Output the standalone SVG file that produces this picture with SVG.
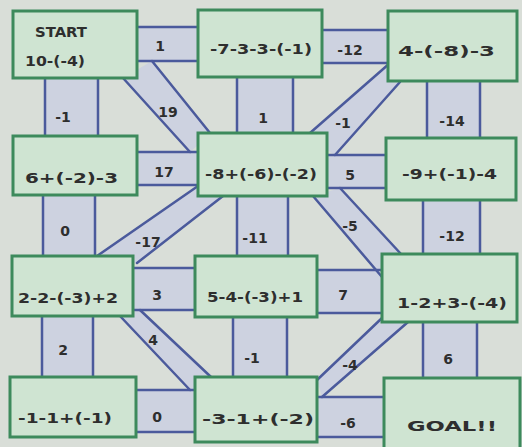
<svg xmlns="http://www.w3.org/2000/svg" width="522" height="447" viewBox="0 0 522 447">
<style>
.fill{fill:#cdd2e0;stroke:none}
.ln{stroke:#4b5a9c;stroke-width:2.5;stroke-linecap:round;fill:none}
.lbl{font-family:"DejaVu Sans",sans-serif;font-weight:bold;font-size:14px;fill:#2e2e2e;text-anchor:middle}
.box{fill:#cfe4d2;stroke:#3d8a5c;stroke-width:3}
.bt{font-family:"DejaVu Sans",sans-serif;font-weight:bold;font-size:14px;fill:#2e2e2e}
</style>
<rect x="0" y="0" width="522" height="447" fill="#d9ded8"/>
<g id="connectors">
  <g id="corridor-fills">
    <rect class="fill" x="137" y="27" width="61" height="34"/>
    <rect class="fill" x="322" y="30" width="66" height="33"/>
    <rect class="fill" x="137" y="152" width="61" height="33"/>
    <rect class="fill" x="327" y="155" width="59" height="33"/>
    <rect class="fill" x="133" y="268" width="62" height="42"/>
    <rect class="fill" x="317" y="270" width="65" height="43"/>
    <rect class="fill" x="136" y="390" width="59" height="42"/>
    <rect class="fill" x="317" y="397" width="67" height="40"/>
    <rect class="fill" x="45" y="78" width="53" height="58"/>
    <rect class="fill" x="237" y="77" width="56" height="56"/>
    <rect class="fill" x="427" y="81" width="53" height="57"/>
    <rect class="fill" x="43" y="195" width="52" height="61"/>
    <rect class="fill" x="237" y="196" width="51" height="60"/>
    <rect class="fill" x="423" y="200" width="57" height="54"/>
    <rect class="fill" x="42" y="316" width="51" height="61"/>
    <rect class="fill" x="233" y="317" width="54" height="60"/>
    <rect class="fill" x="423" y="322" width="54" height="55"/>
    <polygon class="fill" points="152,61 210,133 198,145 190,152 123,78"/>
    <polygon class="fill" points="390,63 310,133 327,150 335,155 400,82"/>
    <polygon class="fill" points="97,256 198,186 223,196 137,263"/>
    <polygon class="fill" points="340,188 401,254 382,277 313,196"/>
    <polygon class="fill" points="140,310 211,377 195,390 190,390 120,316"/>
    <polygon class="fill" points="382,318 317,380 322,397 408,322"/>
  </g>
  <g id="corridor-lines">
    <line class="ln" x1="137" y1="27" x2="198" y2="27"/><line class="ln" x1="137" y1="61" x2="198" y2="61"/>
    <line class="ln" x1="322" y1="30" x2="388" y2="30"/><line class="ln" x1="322" y1="63" x2="388" y2="63"/>
    <line class="ln" x1="137" y1="152" x2="198" y2="152"/><line class="ln" x1="137" y1="185" x2="198" y2="185"/>
    <line class="ln" x1="327" y1="155" x2="386" y2="155"/><line class="ln" x1="327" y1="188" x2="386" y2="188"/>
    <line class="ln" x1="133" y1="268" x2="195" y2="268"/><line class="ln" x1="133" y1="310" x2="195" y2="310"/>
    <line class="ln" x1="317" y1="270" x2="382" y2="270"/><line class="ln" x1="317" y1="313" x2="382" y2="313"/>
    <line class="ln" x1="136" y1="390" x2="195" y2="390"/><line class="ln" x1="136" y1="432" x2="195" y2="432"/>
    <line class="ln" x1="317" y1="397" x2="384" y2="397"/><line class="ln" x1="317" y1="437" x2="384" y2="437"/>
    <line class="ln" x1="45" y1="78" x2="45" y2="136"/><line class="ln" x1="98" y1="78" x2="98" y2="136"/>
    <line class="ln" x1="237" y1="77" x2="237" y2="133"/><line class="ln" x1="293" y1="77" x2="293" y2="133"/>
    <line class="ln" x1="427" y1="81" x2="427" y2="138"/><line class="ln" x1="480" y1="81" x2="480" y2="138"/>
    <line class="ln" x1="43" y1="195" x2="43" y2="256"/><line class="ln" x1="95" y1="195" x2="95" y2="256"/>
    <line class="ln" x1="237" y1="196" x2="237" y2="256"/><line class="ln" x1="288" y1="196" x2="288" y2="256"/>
    <line class="ln" x1="423" y1="200" x2="423" y2="254"/><line class="ln" x1="480" y1="200" x2="480" y2="254"/>
    <line class="ln" x1="42" y1="316" x2="42" y2="377"/><line class="ln" x1="93" y1="316" x2="93" y2="377"/>
    <line class="ln" x1="233" y1="317" x2="233" y2="377"/><line class="ln" x1="287" y1="317" x2="287" y2="377"/>
    <line class="ln" x1="423" y1="322" x2="423" y2="377"/><line class="ln" x1="477" y1="322" x2="477" y2="377"/>
    <line class="ln" x1="152" y1="61" x2="210" y2="133"/><line class="ln" x1="123" y1="78" x2="190" y2="152"/>
    <line class="ln" x1="390" y1="63" x2="310" y2="133"/><line class="ln" x1="400" y1="82" x2="335" y2="155"/>
    <line class="ln" x1="97" y1="256" x2="198" y2="186"/><line class="ln" x1="137" y1="263" x2="223" y2="196"/>
    <line class="ln" x1="340" y1="188" x2="401" y2="254"/><line class="ln" x1="313" y1="196" x2="382" y2="277"/>
    <line class="ln" x1="140" y1="310" x2="211" y2="377"/><line class="ln" x1="120" y1="316" x2="190" y2="390"/>
    <line class="ln" x1="382" y1="318" x2="317" y2="380"/><line class="ln" x1="408" y1="322" x2="322" y2="397"/>
  </g>
  <g id="corridor-labels">
    <text class="lbl" x="160" y="51">1</text>
    <text class="lbl" x="350" y="55">-12</text>
    <text class="lbl" x="164" y="177">17</text>
    <text class="lbl" x="350" y="180">5</text>
    <text class="lbl" x="157" y="300">3</text>
    <text class="lbl" x="343" y="300">7</text>
    <text class="lbl" x="157" y="422">0</text>
    <text class="lbl" x="348" y="428">-6</text>
    <text class="lbl" x="63" y="122">-1</text>
    <text class="lbl" x="263" y="123">1</text>
    <text class="lbl" x="452" y="126">-14</text>
    <text class="lbl" x="65" y="236">0</text>
    <text class="lbl" x="255" y="243">-11</text>
    <text class="lbl" x="452" y="241">-12</text>
    <text class="lbl" x="63" y="355">2</text>
    <text class="lbl" x="252" y="363">-1</text>
    <text class="lbl" x="448" y="364">6</text>
    <text class="lbl" x="168" y="117">19</text>
    <text class="lbl" x="343" y="128">-1</text>
    <text class="lbl" x="148" y="247">-17</text>
    <text class="lbl" x="350" y="231">-5</text>
    <text class="lbl" x="153" y="345">4</text>
    <text class="lbl" x="350" y="370">-4</text>
  </g>
</g>
<g id="start">
  <rect class="box" x="13" y="11" width="124" height="67"/>
  <text class="bt" x="35" y="37" textLength="52" lengthAdjust="spacingAndGlyphs">START</text>
  <text class="bt" x="25" y="66" textLength="60" lengthAdjust="spacingAndGlyphs">10-(-4)</text>
</g>
<g id="n12">
  <rect class="box" x="198" y="10" width="124" height="67"/>
  <text class="bt" x="210" y="54" textLength="102" lengthAdjust="spacingAndGlyphs">-7-3-3-(-1)</text>
</g>
<g id="n13">
  <rect class="box" x="388" y="11" width="129" height="70"/>
  <text class="bt" x="398" y="56" textLength="97" lengthAdjust="spacingAndGlyphs">4-(-8)-3</text>
</g>
<g id="n21">
  <rect class="box" x="13" y="136" width="124" height="59"/>
  <text class="bt" x="25" y="183" textLength="93" lengthAdjust="spacingAndGlyphs">6+(-2)-3</text>
</g>
<g id="n22">
  <rect class="box" x="198" y="133" width="129" height="63"/>
  <text class="bt" x="205" y="179" textLength="112" lengthAdjust="spacingAndGlyphs">-8+(-6)-(-2)</text>
</g>
<g id="n23">
  <rect class="box" x="386" y="138" width="130" height="62"/>
  <text class="bt" x="402" y="179" textLength="95" lengthAdjust="spacingAndGlyphs">-9+(-1)-4</text>
</g>
<g id="n31">
  <rect class="box" x="12" y="256" width="121" height="60"/>
  <text class="bt" x="18" y="303" textLength="100" lengthAdjust="spacingAndGlyphs">2-2-(-3)+2</text>
</g>
<g id="n32">
  <rect class="box" x="195" y="256" width="122" height="61"/>
  <text class="bt" x="207" y="302" textLength="96" lengthAdjust="spacingAndGlyphs">5-4-(-3)+1</text>
</g>
<g id="n33">
  <rect class="box" x="382" y="254" width="135" height="68"/>
  <text class="bt" x="397" y="308" textLength="110" lengthAdjust="spacingAndGlyphs">1-2+3-(-4)</text>
</g>
<g id="n41">
  <rect class="box" x="10" y="377" width="126" height="60"/>
  <text class="bt" x="18" y="423" textLength="94" lengthAdjust="spacingAndGlyphs">-1-1+(-1)</text>
</g>
<g id="n42">
  <rect class="box" x="195" y="377" width="122" height="65"/>
  <text class="bt" x="202" y="424" textLength="112" lengthAdjust="spacingAndGlyphs">-3-1+(-2)</text>
</g>
<g id="goal">
  <rect class="box" x="384" y="378" width="136" height="72"/>
  <text class="bt" x="407" y="431" font-size="19" textLength="90" lengthAdjust="spacingAndGlyphs">GOAL!!</text>
</g>
</svg>
